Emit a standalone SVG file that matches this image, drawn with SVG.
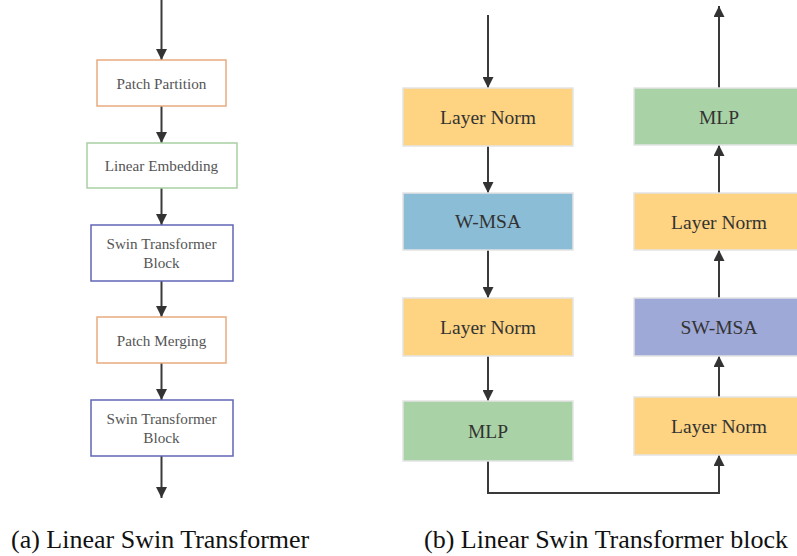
<svg xmlns="http://www.w3.org/2000/svg" width="797" height="556" viewBox="0 0 797 556">
<defs>
<marker id="ah" viewBox="0 0 10 10" refX="10" refY="5" markerWidth="5.5" markerHeight="5.5" orient="auto" markerUnits="strokeWidth">
<path d="M0,0 L10,5 L0,10 z" fill="#333"/>
</marker>
<style>
.c{stroke:#3a3a3a;stroke-width:2;fill:none}
.lb{fill:#fff;stroke-width:1.5}
.lt{font-family:"Liberation Serif","Times New Roman",serif;font-size:15.2px;fill:#555;text-anchor:middle}
.rt{font-family:"Liberation Serif","Times New Roman",serif;font-size:19.5px;fill:#333;text-anchor:middle}
.rb{stroke:#e4e4e4;stroke-width:1.5}
.cap{font-family:"Liberation Serif","Times New Roman",serif;font-size:26px;fill:#111}
</style>
</defs>
<rect width="797" height="556" fill="#fff"/>
<g id="connectors">
<line class="c" x1="161.5" y1="0" x2="161.5" y2="60" marker-end="url(#ah)"/>
<line class="c" x1="161.5" y1="106" x2="161.5" y2="143" marker-end="url(#ah)"/>
<line class="c" x1="161.5" y1="188" x2="161.5" y2="225" marker-end="url(#ah)"/>
<line class="c" x1="161.5" y1="281" x2="161.5" y2="317" marker-end="url(#ah)"/>
<line class="c" x1="161.5" y1="363" x2="161.5" y2="400" marker-end="url(#ah)"/>
<line class="c" x1="161.5" y1="456" x2="161.5" y2="498" marker-end="url(#ah)"/>
<line class="c" x1="488" y1="15" x2="488" y2="88" marker-end="url(#ah)"/>
<line class="c" x1="488" y1="146" x2="488" y2="193" marker-end="url(#ah)"/>
<line class="c" x1="488" y1="250" x2="488" y2="298" marker-end="url(#ah)"/>
<line class="c" x1="488" y1="356" x2="488" y2="401" marker-end="url(#ah)"/>
<path class="c" d="M488,461 V493 H719 V455" marker-end="url(#ah)"/>
<line class="c" x1="719" y1="397" x2="719" y2="356" marker-end="url(#ah)"/>
<line class="c" x1="719" y1="298" x2="719" y2="250" marker-end="url(#ah)"/>
<line class="c" x1="719" y1="193" x2="719" y2="145" marker-end="url(#ah)"/>
<line class="c" x1="719" y1="88" x2="719" y2="6" marker-end="url(#ah)"/>
</g>
<g id="patch-partition"><rect class="lb" x="97" y="60" width="129" height="46" stroke="#e8ab80"/><text class="lt" x="161.5" y="88.5">Patch Partition</text></g>
<g id="linear-embedding"><rect class="lb" x="87" y="143" width="150" height="45" stroke="#a9d0a3"/><text class="lt" x="161.5" y="171">Linear Embedding</text></g>
<g id="swin-block-1"><rect class="lb" x="91" y="225" width="142" height="56" stroke="#6065b5"/><text class="lt" x="161.5" y="249">Swin Transformer</text><text class="lt" x="161.5" y="268">Block</text></g>
<g id="patch-merging"><rect class="lb" x="97" y="317" width="129" height="46" stroke="#e8ab80"/><text class="lt" x="161.5" y="345.5">Patch Merging</text></g>
<g id="swin-block-2"><rect class="lb" x="91" y="400" width="142" height="56" stroke="#6065b5"/><text class="lt" x="161.5" y="424">Swin Transformer</text><text class="lt" x="161.5" y="443">Block</text></g>
<g id="layer-norm-1"><rect class="rb" x="403" y="88" width="170" height="58" fill="#fed381"/><text class="rt" x="488" y="124">Layer Norm</text></g>
<g id="w-msa"><rect class="rb" x="403" y="193" width="170" height="57" fill="#8cbdd6"/><text class="rt" x="488" y="228">W-MSA</text></g>
<g id="layer-norm-2"><rect class="rb" x="403" y="298" width="170" height="58" fill="#fed381"/><text class="rt" x="488" y="334">Layer Norm</text></g>
<g id="mlp-1"><rect class="rb" x="403" y="401" width="170" height="60" fill="#a9d3a6"/><text class="rt" x="488" y="438">MLP</text></g>
<g id="layer-norm-3"><rect class="rb" x="634" y="397" width="170" height="58" fill="#fed381"/><text class="rt" x="719" y="433">Layer Norm</text></g>
<g id="sw-msa"><rect class="rb" x="634" y="298" width="170" height="58" fill="#9fa9d7"/><text class="rt" x="719" y="334">SW-MSA</text></g>
<g id="layer-norm-4"><rect class="rb" x="634" y="193" width="170" height="57" fill="#fed381"/><text class="rt" x="719" y="229">Layer Norm</text></g>
<g id="mlp-2"><rect class="rb" x="634" y="88" width="170" height="57" fill="#a9d3a6"/><text class="rt" x="719" y="124">MLP</text></g>
<text class="cap" x="11" y="548">(a) Linear Swin Transformer</text>
<text class="cap" x="424" y="548">(b) Linear Swin Transformer block</text>
</svg>
